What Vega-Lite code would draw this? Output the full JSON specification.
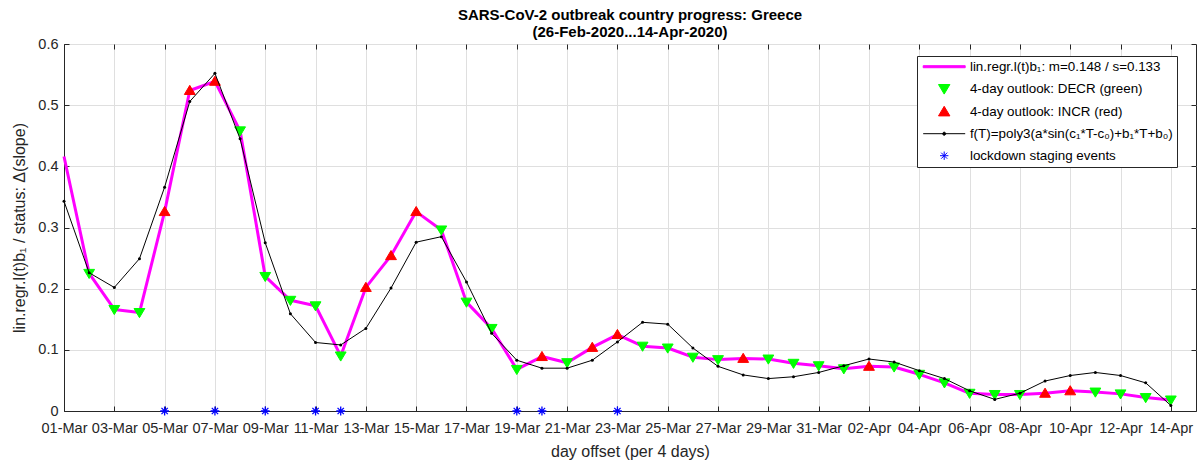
{
  "$schema": "https://vega.github.io/schema/vega-lite/v6.json",
  "width": 1132,
  "height": 367,
  "autosize": {"type": "none"},
  "padding": {"left": 64, "top": 44, "right": 5, "bottom": 55},
  "background": "white",
  "title": {
    "text": ["SARS-CoV-2 outbreak country progress: Greece", "(26-Feb-2020...14-Apr-2020)"],
    "anchor": "middle",
    "frame": "group",
    "font": "Liberation Sans",
    "fontSize": 15,
    "fontWeight": "bold",
    "color": "#000000",
    "lineHeight": 17,
    "offset": 6,
    "dy": 10
  },
  "config": {
    "view": {"stroke": "#262626", "strokeWidth": 1},
    "font": "Liberation Sans",
    "axis": {
      "labelFont": "Liberation Sans",
      "titleFont": "Liberation Sans",
      "labelColor": "#262626",
      "titleColor": "#262626",
      "domainColor": "#262626",
      "tickColor": "#262626",
      "gridColor": "#dfdfdf",
      "labelFontSize": 14.5,
      "titleFontSize": 16,
      "titleFontWeight": "normal",
      "tickSize": -5,
      "labelFlush": false,
      "labelOverlap": false
    },
    "legend": {
      "orient": "none",
      "legendX": 853,
      "legendY": 12,
      "padding": 4,
      "strokeColor": "#262626",
      "fillColor": "#ffffff",
      "symbolSize": 144,
      "symbolStrokeWidth": 1,
      "symbolOffset": 16.5,
      "labelOffset": 19,
      "rowPadding": 7,
      "labelFont": "Liberation Sans",
      "labelFontSize": 13.4,
      "labelColor": "#000000",
      "labelLimit": 400
    }
  },
  "datasets": {
    "daily": [
      {"date": "2020/03/01", "m": 0.416, "f": 0.343, "series": null},
      {"date": "2020/03/02", "m": 0.225, "f": 0.226, "series": "4-day outlook: DECR (green)"},
      {"date": "2020/03/03", "m": 0.166, "f": 0.202, "series": "4-day outlook: DECR (green)"},
      {"date": "2020/03/04", "m": 0.161, "f": 0.249, "series": "4-day outlook: DECR (green)"},
      {"date": "2020/03/05", "m": 0.326, "f": 0.366, "series": "4-day outlook: INCR (red)"},
      {"date": "2020/03/06", "m": 0.524, "f": 0.506, "series": "4-day outlook: INCR (red)"},
      {"date": "2020/03/07", "m": 0.539, "f": 0.552, "series": "4-day outlook: INCR (red)"},
      {"date": "2020/03/08", "m": 0.458, "f": 0.445, "series": "4-day outlook: DECR (green)"},
      {"date": "2020/03/09", "m": 0.220, "f": 0.275, "series": "4-day outlook: DECR (green)"},
      {"date": "2020/03/10", "m": 0.181, "f": 0.159, "series": "4-day outlook: DECR (green)"},
      {"date": "2020/03/11", "m": 0.172, "f": 0.112, "series": "4-day outlook: DECR (green)"},
      {"date": "2020/03/12", "m": 0.090, "f": 0.108, "series": "4-day outlook: DECR (green)"},
      {"date": "2020/03/13", "m": 0.202, "f": 0.135, "series": "4-day outlook: INCR (red)"},
      {"date": "2020/03/14", "m": 0.254, "f": 0.201, "series": "4-day outlook: INCR (red)"},
      {"date": "2020/03/15", "m": 0.326, "f": 0.276, "series": "4-day outlook: INCR (red)"},
      {"date": "2020/03/16", "m": 0.296, "f": 0.285, "series": "4-day outlook: DECR (green)"},
      {"date": "2020/03/17", "m": 0.178, "f": 0.211, "series": "4-day outlook: DECR (green)"},
      {"date": "2020/03/18", "m": 0.135, "f": 0.127, "series": "4-day outlook: DECR (green)"},
      {"date": "2020/03/19", "m": 0.068, "f": 0.083, "series": "4-day outlook: DECR (green)"},
      {"date": "2020/03/20", "m": 0.089, "f": 0.070, "series": "4-day outlook: INCR (red)"},
      {"date": "2020/03/21", "m": 0.079, "f": 0.070, "series": "4-day outlook: DECR (green)"},
      {"date": "2020/03/22", "m": 0.104, "f": 0.083, "series": "4-day outlook: INCR (red)"},
      {"date": "2020/03/23", "m": 0.125, "f": 0.113, "series": "4-day outlook: INCR (red)"},
      {"date": "2020/03/24", "m": 0.106, "f": 0.145, "series": "4-day outlook: DECR (green)"},
      {"date": "2020/03/25", "m": 0.103, "f": 0.142, "series": "4-day outlook: DECR (green)"},
      {"date": "2020/03/26", "m": 0.088, "f": 0.103, "series": "4-day outlook: DECR (green)"},
      {"date": "2020/03/27", "m": 0.084, "f": 0.073, "series": "4-day outlook: DECR (green)"},
      {"date": "2020/03/28", "m": 0.086, "f": 0.059, "series": "4-day outlook: INCR (red)"},
      {"date": "2020/03/29", "m": 0.085, "f": 0.053, "series": "4-day outlook: DECR (green)"},
      {"date": "2020/03/30", "m": 0.078, "f": 0.056, "series": "4-day outlook: DECR (green)"},
      {"date": "2020/03/31", "m": 0.074, "f": 0.063, "series": "4-day outlook: DECR (green)"},
      {"date": "2020/04/01", "m": 0.069, "f": 0.074, "series": "4-day outlook: DECR (green)"},
      {"date": "2020/04/02", "m": 0.073, "f": 0.085, "series": "4-day outlook: INCR (red)"},
      {"date": "2020/04/03", "m": 0.072, "f": 0.080, "series": "4-day outlook: DECR (green)"},
      {"date": "2020/04/04", "m": 0.060, "f": 0.066, "series": "4-day outlook: DECR (green)"},
      {"date": "2020/04/05", "m": 0.046, "f": 0.053, "series": "4-day outlook: DECR (green)"},
      {"date": "2020/04/06", "m": 0.029, "f": 0.033, "series": "4-day outlook: DECR (green)"},
      {"date": "2020/04/07", "m": 0.027, "f": 0.019, "series": "4-day outlook: DECR (green)"},
      {"date": "2020/04/08", "m": 0.027, "f": 0.029, "series": "4-day outlook: DECR (green)"},
      {"date": "2020/04/09", "m": 0.029, "f": 0.049, "series": "4-day outlook: INCR (red)"},
      {"date": "2020/04/10", "m": 0.033, "f": 0.058, "series": "4-day outlook: INCR (red)"},
      {"date": "2020/04/11", "m": 0.031, "f": 0.063, "series": "4-day outlook: DECR (green)"},
      {"date": "2020/04/12", "m": 0.028, "f": 0.058, "series": "4-day outlook: DECR (green)"},
      {"date": "2020/04/13", "m": 0.022, "f": 0.046, "series": "4-day outlook: DECR (green)"},
      {"date": "2020/04/14", "m": 0.018, "f": 0.009, "series": "4-day outlook: DECR (green)"}
    ],
    "events": [
      {"date": "2020/03/05", "v": 0, "series": "lockdown staging events"},
      {"date": "2020/03/07", "v": 0, "series": "lockdown staging events"},
      {"date": "2020/03/09", "v": 0, "series": "lockdown staging events"},
      {"date": "2020/03/11", "v": 0, "series": "lockdown staging events"},
      {"date": "2020/03/12", "v": 0, "series": "lockdown staging events"},
      {"date": "2020/03/19", "v": 0, "series": "lockdown staging events"},
      {"date": "2020/03/20", "v": 0, "series": "lockdown staging events"},
      {"date": "2020/03/23", "v": 0, "series": "lockdown staging events"}
    ]
  },
  "layer": [
    {
      "data": {"name": "daily"},
      "mark": {"type": "line", "color": "#ff00ff", "strokeWidth": 3, "strokeJoin": "round"},
      "encoding": {
        "x": {
          "field": "date", "type": "temporal",
          "scale": {"domain": [{"year": 2020, "month": 3, "date": 1}, {"year": 2020, "month": 4, "date": 15}]},
          "axis": {
            "orient": "bottom",
            "title": "day offset (per 4 days)",
            "format": "%d-%b",
            "grid": true,
            "labelPadding": 15,
            "titlePadding": 9,
            "values": [
              {"year": 2020, "month": 3, "date": 1}, {"year": 2020, "month": 3, "date": 3},
              {"year": 2020, "month": 3, "date": 5}, {"year": 2020, "month": 3, "date": 7},
              {"year": 2020, "month": 3, "date": 9}, {"year": 2020, "month": 3, "date": 11},
              {"year": 2020, "month": 3, "date": 13}, {"year": 2020, "month": 3, "date": 15},
              {"year": 2020, "month": 3, "date": 17}, {"year": 2020, "month": 3, "date": 19},
              {"year": 2020, "month": 3, "date": 21}, {"year": 2020, "month": 3, "date": 23},
              {"year": 2020, "month": 3, "date": 25}, {"year": 2020, "month": 3, "date": 27},
              {"year": 2020, "month": 3, "date": 29}, {"year": 2020, "month": 3, "date": 31},
              {"year": 2020, "month": 4, "date": 2}, {"year": 2020, "month": 4, "date": 4},
              {"year": 2020, "month": 4, "date": 6}, {"year": 2020, "month": 4, "date": 8},
              {"year": 2020, "month": 4, "date": 10}, {"year": 2020, "month": 4, "date": 12},
              {"year": 2020, "month": 4, "date": 14}
            ]
          }
        },
        "y": {
          "field": "m", "type": "quantitative",
          "scale": {"domain": [0, 0.6], "nice": false, "zero": false},
          "axis": {
            "orient": "left",
            "title": "lin.regr.l(t)b₁ / status: Δ(slope)",
            "grid": true,
            "values": [0, 0.1, 0.2, 0.3, 0.4, 0.5, 0.6],
            "format": ".1~f",
            "labelPadding": 11,
            "titlePadding": 10
          }
        }
      }
    },
    {
      "data": {"name": "daily"},
      "transform": [{"filter": "datum.series != null"}],
      "mark": {"type": "point", "filled": true, "size": 130, "opacity": 1, "strokeWidth": 1},
      "encoding": {
        "x": {
          "field": "date", "type": "temporal",
          "axis": {
            "orient": "top", "title": null, "labels": false, "grid": false, "domain": false,
            "values": [
              {"year": 2020, "month": 3, "date": 1}, {"year": 2020, "month": 3, "date": 3},
              {"year": 2020, "month": 3, "date": 5}, {"year": 2020, "month": 3, "date": 7},
              {"year": 2020, "month": 3, "date": 9}, {"year": 2020, "month": 3, "date": 11},
              {"year": 2020, "month": 3, "date": 13}, {"year": 2020, "month": 3, "date": 15},
              {"year": 2020, "month": 3, "date": 17}, {"year": 2020, "month": 3, "date": 19},
              {"year": 2020, "month": 3, "date": 21}, {"year": 2020, "month": 3, "date": 23},
              {"year": 2020, "month": 3, "date": 25}, {"year": 2020, "month": 3, "date": 27},
              {"year": 2020, "month": 3, "date": 29}, {"year": 2020, "month": 3, "date": 31},
              {"year": 2020, "month": 4, "date": 2}, {"year": 2020, "month": 4, "date": 4},
              {"year": 2020, "month": 4, "date": 6}, {"year": 2020, "month": 4, "date": 8},
              {"year": 2020, "month": 4, "date": 10}, {"year": 2020, "month": 4, "date": 12},
              {"year": 2020, "month": 4, "date": 14}
            ]
          }
        },
        "y": {
          "field": "m", "type": "quantitative",
          "axis": {
            "orient": "right", "title": null, "labels": false, "grid": false, "domain": false,
            "values": [0, 0.1, 0.2, 0.3, 0.4, 0.5, 0.6]
          }
        },
        "color": {
          "field": "series", "type": "nominal",
          "scale": {
            "domain": ["lin.regr.l(t)b₁: m=0.148 / s=0.133", "4-day outlook: DECR (green)", "4-day outlook: INCR (red)", "f(T)=poly3(a*sin(c₁*T-c₀)+b₁*T+b₀)", "lockdown staging events"],
            "range": ["#ff00ff", "#00ff00", "#ff0000", "#000000", "#0000ff"]
          },
          "legend": {"title": null}
        },
        "stroke": {
          "field": "series", "type": "nominal",
          "scale": {
            "domain": ["lin.regr.l(t)b₁: m=0.148 / s=0.133", "4-day outlook: DECR (green)", "4-day outlook: INCR (red)", "f(T)=poly3(a*sin(c₁*T-c₀)+b₁*T+b₀)", "lockdown staging events"],
            "range": ["#ff00ff", "#00ff00", "#ff0000", "#000000", "#0000ff"]
          },
          "legend": {"title": null}
        },
        "shape": {
          "field": "series", "type": "nominal",
          "scale": {
            "domain": ["lin.regr.l(t)b₁: m=0.148 / s=0.133", "4-day outlook: DECR (green)", "4-day outlook: INCR (red)", "f(T)=poly3(a*sin(c₁*T-c₀)+b₁*T+b₀)", "lockdown staging events"],
            "range": ["M-3.5,-0.17H3.5V0.17H-3.5Z", "M-0.95,-0.7L0.95,-0.7L0,0.9Z", "M-0.95,0.7L0.95,0.7L0,-0.9Z", "M-3.5,0H3.5M-0.25,0A0.25,0.25,0,1,0,0.25,0A0.25,0.25,0,1,0,-0.25,0", "M-0.7,0H0.7M0,-0.7V0.7M-0.5,-0.5L0.5,0.5M-0.5,0.5L0.5,-0.5"]
          },
          "legend": {"title": null}
        }
      }
    },
    {
      "data": {"name": "daily"},
      "mark": {"type": "line", "color": "#000000", "strokeWidth": 1, "point": {"filled": true, "size": 9, "color": "#000000", "opacity": 1}},
      "encoding": {
        "x": {"field": "date", "type": "temporal", "axis": null},
        "y": {"field": "f", "type": "quantitative", "axis": null}
      }
    },
    {
      "data": {"name": "events"},
      "mark": {"type": "point", "filled": true, "size": 160, "opacity": 1, "strokeWidth": 1.3},
      "encoding": {
        "x": {"field": "date", "type": "temporal", "axis": null},
        "y": {"field": "v", "type": "quantitative", "axis": null},
        "color": {"field": "series", "type": "nominal", "legend": {"title": null}},
        "stroke": {"field": "series", "type": "nominal", "legend": {"title": null}},
        "shape": {"field": "series", "type": "nominal", "legend": {"title": null}}
      }
    }
  ],
  "resolve": {"axis": {"x": "independent", "y": "independent"}}
}
